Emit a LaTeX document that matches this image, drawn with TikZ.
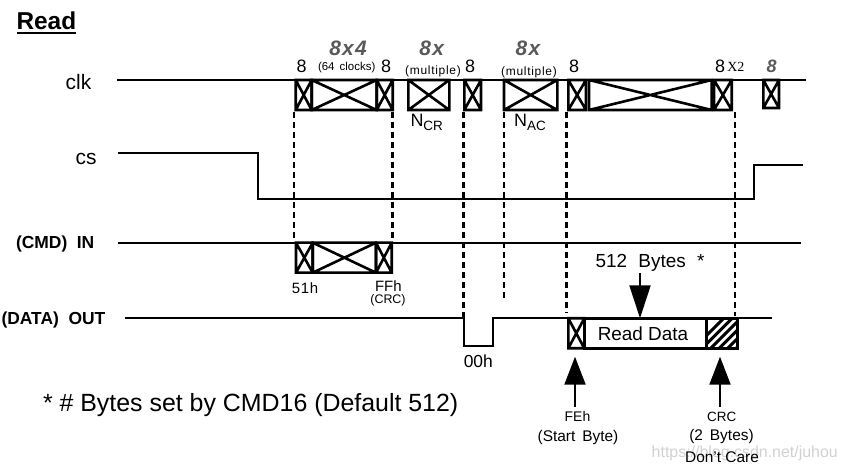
\documentclass[tikz,border=0pt]{standalone}
\usepackage{fontspec}
\setmainfont{Liberation Sans}
\newfontfamily\serifx{Liberation Serif}
\usetikzlibrary{arrows.meta,calc}
\newcommand\fsz[1]{\fontsize{#1}{#1}\selectfont}
\newcommand\xcell[5]{%
  \coordinate (#1a) at (#2,#4);
  \coordinate (#1b) at (#3,#5);
  \draw[boxl] (#1a) rectangle (#1b) (#1a) -- (#1b) (#2,#5) -- (#3,#4);
}
\begin{document}
\begin{tikzpicture}[x=1bp,y=-1bp,
  sig/.style={line width=2bp},
  boxl/.style={line width=2.6bp},
  dsh/.style={line width=2.3bp, dash pattern=on 6bp off 4bp},
  txt/.style={inner sep=0pt, outer sep=0pt},
  lab/.style={txt, font=\fsz{18}},
  bigx/.style={txt, text=black!65, font=\bfseries\itshape\fsz{21}\addfontfeature{LetterSpace=6}},
  mult/.style={txt, font=\fsz{12}\addfontfeature{LetterSpace=6}}]
\useasboundingbox (0,0) rectangle (848,472);

% title
\node[txt, anchor=base west, font=\bfseries\fsz{24.5}] (title) at (16.5,30) {Read};
\draw[line width=1.8bp] ($(title.base west)+(0,3)$) -- ($(title.base east)+(0,3)$);

% signal names
\node[txt, font=\fsz{21}] (nclk) at (78.5,82) {clk};
\node[txt, font=\fsz{21}] (ncs) at (86,158.5) {cs};
\node[txt, anchor=west, font=\bfseries\fsz{17.5}] (ncmd) at (16,244) {(CMD)\hspace{0.55em}IN};
\node[txt, anchor=west, font=\bfseries\fsz{17.5}] (ndat) at (1.5,319.5) {(DATA)\hspace{0.55em}OUT};

% clk line
\coordinate (clkA) at (117,80);
\coordinate (clkB) at (806,80);
\draw[sig] (clkA) -- (clkB);

% cs line
\coordinate (cs0) at (118,153);
\coordinate (cs1) at (258.3,153);
\coordinate (cs2) at (258.3,199.3);
\coordinate (cs3) at (754.3,199.3);
\coordinate (cs4) at (754.3,165);
\coordinate (cs5) at (802.7,165);
\draw[sig] (cs0) -- (cs1) -- (cs2) -- (cs3) -- (cs4) -- (cs5);

% cmd line
\coordinate (cmdA) at (118,242.7);
\coordinate (cmdB) at (801,242.7);
\draw[sig] (cmdA) -- (cmdB);

% data out line
\coordinate (do0) at (125,318.3);
\coordinate (do1) at (464,318.3);
\coordinate (do2) at (464,346);
\coordinate (do3) at (493.3,346);
\coordinate (do4) at (493.3,318.3);
\coordinate (do5) at (771.7,318.3);
\draw[sig] (do0) -- (do1) -- (do2) -- (do3) -- (do4) -- (do5);

% clk boxes
\xcell{c1}{295.7}{311.7}{80}{110}
\xcell{c2}{311.7}{376.7}{80}{110}
\xcell{c3}{376.7}{392.7}{80}{110}
\xcell{c4}{408.3}{449.3}{80}{110}
\xcell{c5}{464.3}{481}{80}{110}
\xcell{c6}{504}{557.3}{80}{110}
\xcell{c7}{568.3}{586}{80}{110}
\xcell{c8}{589}{711.7}{80}{110}
\xcell{c9}{714}{731.7}{80}{110}
\xcell{c10}{763.3}{779}{80}{108}

% cmd boxes
\xcell{m1}{296}{312.7}{242.7}{272.7}
\xcell{m2}{312.7}{376}{242.7}{272.7}
\xcell{m3}{376}{391.7}{242.7}{272.7}

% data boxes
\xcell{d1}{568.3}{584.3}{318.3}{348.3}
\coordinate (d2a) at (584.3,318.3);
\coordinate (d2b) at (706.7,348.3);
\draw[boxl] (d2a) rectangle (d2b);
\node[txt, font=\fsz{19}] (rdata) at (643,334) {Read Data};
\coordinate (d3a) at (706.7,318.3);
\coordinate (d3b) at (737.3,348.3);
\begin{scope}
  \clip (d3a) rectangle (d3b);
  \foreach \i in {0,...,9} \draw[line width=3bp] (690+\i*8.5,352) -- ++(38,-38);
\end{scope}
\draw[boxl] (d3a) rectangle (d3b);

% dashed guides
\foreach \n/\x/\ya/\yb in {g1/294/112/243, g2/392.5/112/243, g3/463.5/112/318, g4/504/112/302, g5/566.5/112/313, g6/735/112/316}{
  \coordinate (\n a) at (\x,\ya);
  \coordinate (\n b) at (\x,\yb);
  \draw[dsh] (\n a) -- (\n b);
}

% clk labels
\node[lab] (l8a) at (301.7,66) {8};
\node[bigx] (l8x4) at (348,48) {8x4};
\node[txt, font=\fsz{11.5}] (l64) at (346.7,68) {(64\hspace{0.45em}clocks)};
\node[lab] (l8b) at (386,66) {8};
\node[bigx] (l8xa) at (431.7,48) {8x};
\node[mult] (lmula) at (433,71.5) {(multiple)};
\node[lab] (l8c) at (470,66) {8};
\node[bigx] (l8xb) at (528,48) {8x};
\node[mult] (lmulb) at (529,72.5) {(multiple)};
\node[lab] (l8d) at (574,66.5) {8};
\node[lab] (l8e) at (720,66.5) {8};
\node[txt, font=\serifx\fsz{14}] (lx2) at (735.8,67) {X2};
\node[txt, text=black!65, font=\bfseries\itshape\fsz{18}] (l8f) at (771.7,66.5) {8};
\node[txt, font=\fsz{18}] (ncr) at (426.7,122) {N\raisebox{-4bp}{\fsz{13.5}CR}};
\node[txt, font=\fsz{18}] (nac) at (530,122) {N\raisebox{-4bp}{\fsz{13.5}AC}};

% cmd labels
\node[txt, font=\fsz{15}\addfontfeature{LetterSpace=5}] (l51) at (305,288) {51h};
\node[txt, font=\fsz{15}] (lff) at (388.3,286.5) {FFh};
\node[txt, font=\fsz{12.5}] (lcrc) at (388,300) {(CRC)};
\node[txt, font=\fsz{17.5}] (l00) at (478.3,361.7) {00h};

% 512 bytes arrow
\node[txt, font=\fsz{19}] (l512) at (650,263.3) {512\hspace{0.6em}Bytes\hspace{0.6em}*};
\coordinate (a1s) at (640,273);
\coordinate (a1e) at (640,318.3);
\draw[sig,-{Triangle[width=21bp,length=33bp]}] (a1s) -- (a1e);

% up arrows
\coordinate (a2s) at (575,407);
\coordinate (a2e) at (575,356.7);
\draw[sig,-{Triangle[width=21bp,length=28bp]}] (a2s) -- (a2e);
\coordinate (a3s) at (720,407);
\coordinate (a3e) at (720,356.7);
\draw[sig,-{Triangle[width=21bp,length=28bp]}] (a3s) -- (a3e);

% bottom labels
\node[txt, font=\fsz{14}] (lfe) at (577.5,416.7) {FEh};
\node[txt, font=\fsz{15.5}] (lsb) at (578,438) {(Start\hspace{0.45em}Byte)};
\node[txt, font=\fsz{13.5}] (lcrc2) at (721.7,416.7) {CRC};
\node[txt, font=\fsz{15.5}] (l2b) at (721.5,437) {(2\hspace{0.45em}Bytes)};
\node[txt, font=\fsz{15.5}] (ldc) at (722,456.7) {Don't Care};

% footnote
\node[txt, anchor=west, font=\fsz{25}] (foot) at (43,405) {* \# Bytes set by CMD16 (Default 512)};

% watermark
\node[txt, anchor=west, font=\fsz{16}, text=black, opacity=0.18] (wm) at (651.7,453) {https://blog.csdn.net/juhou};
\end{tikzpicture}
\end{document}
